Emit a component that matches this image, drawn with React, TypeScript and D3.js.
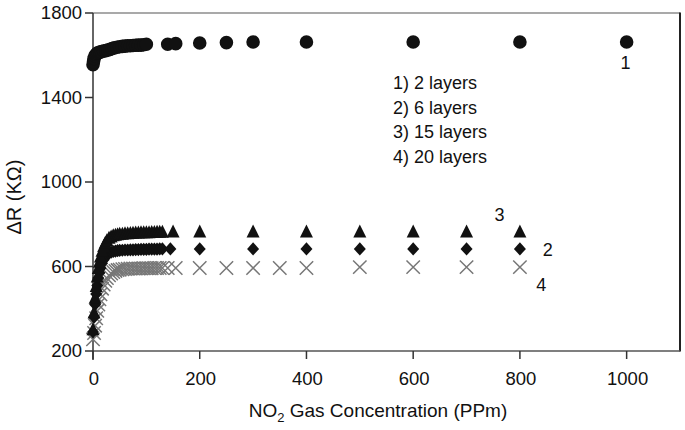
import React from "react";
import * as d3 from "d3";

// ---- Data ----
const xTicks = [0, 200, 400, 600, 800, 1000];
const yTicks = [200, 600, 1000, 1400, 1800];

// Series 1 (2 layers, circles)
const s1X = [0, 1, 2, 4, 6, 8, 10, 13, 16, 20, 24, 28, 32, 36, 40, 45, 50, 55, 60, 65, 70, 75, 80, 85, 90, 95, 100, 140, 155, 200, 250, 300, 400, 600, 800, 1000];
const s1Y = [1555, 1570, 1585, 1598, 1605, 1610, 1612, 1615, 1617, 1620, 1622, 1625, 1628, 1632, 1635, 1638, 1640, 1642, 1643, 1645, 1645, 1646, 1647, 1648, 1648, 1650, 1652, 1652, 1655, 1658, 1660, 1663, 1663, 1663, 1663, 1663];

// Dense low-concentration readings shared by series 2-4
const denseX = [0, 2, 4, 6, 8, 10, 12, 14, 17, 20, 23, 26, 30, 34, 38, 42, 46, 50, 55, 60, 65, 70, 75, 80, 85, 90, 95, 100, 105, 110, 115, 120, 125, 130];

// Series 2 (6 layers, diamonds)
const s2DenseY = [290, 360, 420, 470, 510, 545, 570, 592, 615, 632, 645, 655, 663, 668, 671, 673, 675, 676, 677, 678, 678, 679, 679, 680, 680, 681, 681, 681, 682, 682, 682, 682, 683, 683];
const s2TailX = [145, 200, 300, 400, 500, 600, 700, 800];
const s2TailY = [683, 683, 683, 683, 683, 683, 683, 683];

// Series 3 (15 layers, triangles)
const s3DenseY = [300, 380, 450, 505, 550, 590, 620, 645, 672, 695, 710, 722, 733, 740, 745, 748, 750, 752, 753, 755, 755, 756, 757, 758, 758, 759, 760, 760, 760, 761, 761, 762, 762, 762];
const s3TailX = [150, 200, 300, 400, 500, 600, 700, 800];
const s3TailY = [763, 763, 763, 763, 763, 763, 763, 763];

// Series 4 (20 layers, crosses)
const s4DenseY = [255, 285, 320, 355, 390, 420, 445, 468, 495, 515, 532, 545, 558, 567, 574, 579, 583, 585, 587, 588, 589, 590, 590, 591, 591, 591, 592, 592, 592, 592, 593, 593, 593, 593];
const s4TailX = [140, 155, 200, 250, 300, 350, 400, 500, 600, 700, 800];
const s4TailY = [593, 593, 593, 593, 593, 593, 593, 597, 597, 597, 597];

const legendItems = ["1) 2 layers", "2) 6 layers", "3) 15 layers", "4) 20 layers"];
const seriesLabels = ["1", "3", "2", "4"];
const seriesLabelX = [998, 762, 852, 840];
const seriesLabelY = [1563, 844, 678, 512];

const FONT = "'Liberation Sans', Arial, Helvetica, sans-serif";

const triangleType = {
  draw(ctx: any, size: number) {
    const s = Math.sqrt(size);
    ctx.moveTo(0, -0.58 * s);
    ctx.lineTo(0.5 * s, 0.42 * s);
    ctx.lineTo(-0.5 * s, 0.42 * s);
    ctx.closePath();
  },
};
const diamondType = {
  draw(ctx: any, size: number) {
    const s = Math.sqrt(size);
    ctx.moveTo(0, -0.55 * s);
    ctx.lineTo(0.5 * s, 0);
    ctx.lineTo(0, 0.55 * s);
    ctx.lineTo(-0.5 * s, 0);
    ctx.closePath();
  },
};
const crossType = {
  draw(ctx: any, size: number) {
    const h = Math.sqrt(size) / 2;
    ctx.moveTo(-h, -h);
    ctx.lineTo(h, h);
    ctx.moveTo(-h, h);
    ctx.lineTo(h, -h);
  },
};

export default function App() {
  const W = 685, H = 430;
  const x = d3.scaleLinear().domain([0, 1100]).range([93, 680]);
  const y = d3.scaleLinear().domain([200, 1800]).range([351, 13]);

  const circlePath = d3.symbol(d3.symbolCircle, Math.PI * 6.8 * 6.8)()!;
  const triPath = d3.symbol(triangleType as any, 169)()!;
  const diaPath = d3.symbol(diamondType as any, 144)()!;
  const crossPath = d3.symbol(crossType as any, 180)()!;

  const s1 = s1X.map((v, i) => [v, s1Y[i]]);
  const s2 = [...denseX.map((v, i) => [v, s2DenseY[i]]), ...s2TailX.map((v, i) => [v, s2TailY[i]])];
  const s3 = [...denseX.map((v, i) => [v, s3DenseY[i]]), ...s3TailX.map((v, i) => [v, s3TailY[i]])];
  const s4 = [...denseX.map((v, i) => [v, s4DenseY[i]]), ...s4TailX.map((v, i) => [v, s4TailY[i]])];

  const [x0, x1] = x.range();
  const [y0, y1] = y.range();

  return (
    <svg width={W} height={H} style={{ position: "absolute", left: 0, top: 0, background: "#fff" }} fontFamily={FONT}>
      <rect x={0} y={0} width={W} height={H} fill="#fff" />
      {/* frame */}
      <line x1={x0} x2={x1} y1={y1} y2={y1} stroke="#555" strokeWidth={1.2} />
      <line x1={x1} x2={x1} y1={y1 - 0.5} y2={y0 + 0.5} stroke="#222" strokeWidth={2} />
      <line x1={x0} x2={x1} y1={y0} y2={y0} stroke="#555" strokeWidth={1.5} />
      <line x1={x0} x2={x0} y1={y1} y2={y0 + 9} stroke="#333" strokeWidth={1.5} />

      {/* y ticks */}
      {yTicks.map((t) => (
        <g key={"yt" + t}>
          <line x1={x0 - 8} x2={x0} y1={y(t)} y2={y(t)} stroke="#333" strokeWidth={1.5} />
          <text x={x0 - 11} y={y(t)} dy="0.35em" textAnchor="end" fontSize={18.5} fill="#111">{t}</text>
        </g>
      ))}
      {/* x ticks */}
      {xTicks.map((t) => (
        <g key={"xt" + t}>
          <line x1={x(t)} x2={x(t)} y1={y0} y2={y0 + 8} stroke="#333" strokeWidth={1.5} />
          <text x={x(t) + 1} y={y0 + 34} textAnchor="middle" fontSize={18.5} fill="#111">{t}</text>
        </g>
      ))}

      {/* axis titles */}
      <text transform={`translate(21,197) rotate(-90)`} textAnchor="middle" fontSize={20} fill="#111">ΔR (KΩ)</text>
      <text x={378} y={417} textAnchor="middle" fontSize={19} fill="#111">
        NO<tspan fontSize={13} dy={5}>2</tspan><tspan dy={-5}> Gas Concentration (PPm)</tspan>
      </text>

      {/* series 4: crosses */}
      {s4.map((d, i) => (
        <path key={"c" + i} d={crossPath} transform={`translate(${x(d[0])},${y(d[1])})`} fill="none" stroke="#777" strokeWidth={1.5} />
      ))}
      {/* series 2: diamonds */}
      {s2.map((d, i) => (
        <path key={"d" + i} d={diaPath} transform={`translate(${x(d[0])},${y(d[1])})`} fill="#111" />
      ))}
      {/* series 3: triangles */}
      {s3.map((d, i) => (
        <path key={"t" + i} d={triPath} transform={`translate(${x(d[0])},${y(d[1])})`} fill="#111" />
      ))}
      {/* series 1: circles */}
      {s1.map((d, i) => (
        <path key={"o" + i} d={circlePath} transform={`translate(${x(d[0])},${y(d[1])})`} fill="#111" />
      ))}

      {/* legend text */}
      {legendItems.map((s, i) => (
        <text key={s} x={393} y={89 + i * 24.5} fontSize={18} fill="#111">{s}</text>
      ))}
      {/* series labels */}
      {seriesLabels.map((s, i) => (
        <text key={"sl" + i} x={x(seriesLabelX[i])} y={y(seriesLabelY[i])} dy="0.35em" textAnchor="middle" fontSize={18} fill="#111">{s}</text>
      ))}
    </svg>
  );
}
